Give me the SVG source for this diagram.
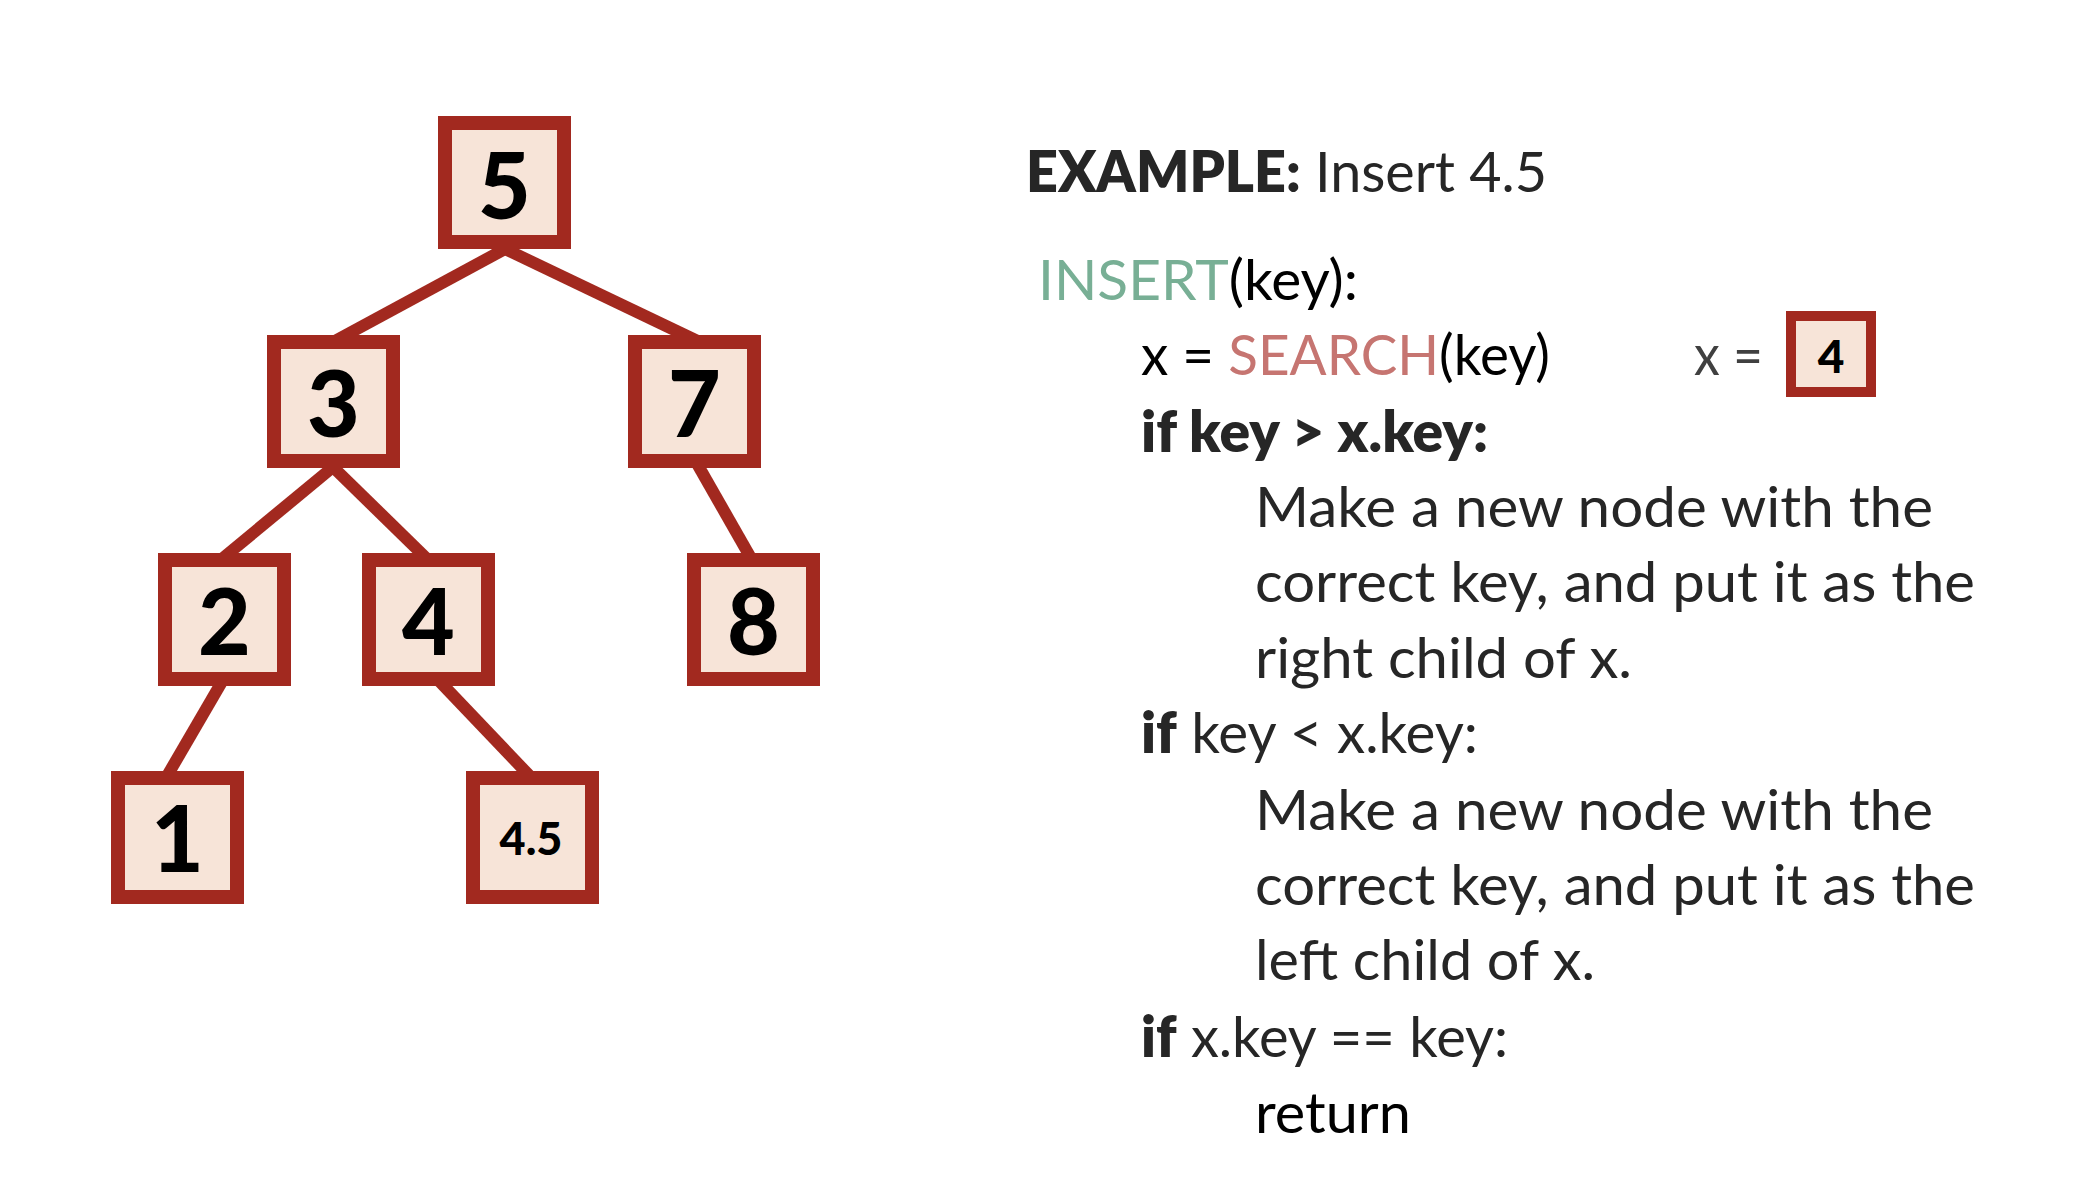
<svg xmlns="http://www.w3.org/2000/svg" width="2090" height="1182" viewBox="0 0 2090 1182">
<style>
.box{fill:#F7E4D8;stroke:#A2291F;stroke-width:14}
.sbox{fill:#F7E4D8;stroke:#A2291F;stroke-width:10}
.edge{stroke:#A2291F;stroke-width:12;fill:none}
.dig{font-family:Lato,"Liberation Sans",sans-serif;font-weight:900;font-size:91px;fill:#000;text-anchor:middle}
.t{font-family:Lato,"Liberation Sans",sans-serif;font-size:56px;fill:#262626}
.b{font-weight:800}
.k{fill:#000}
.g{fill:#78AF95}
.r{fill:#C67571}
</style>
<rect width="2090" height="1182" fill="#fff"/>
<g id="connectors">
<line class="edge" x1="519.8" y1="241" x2="331.2" y2="343"/>
<line class="edge" x1="488.3" y1="241" x2="701.7" y2="343"/>
<line class="edge" x1="342.7" y1="459" x2="219.3" y2="561"/>
<line class="edge" x1="324.8" y1="459" x2="429.2" y2="561"/>
<line class="edge" x1="694.4" y1="459" x2="752.6" y2="561"/>
<line class="edge" x1="224.7" y1="677" x2="165.3" y2="779"/>
<line class="edge" x1="435.4" y1="677" x2="532.6" y2="779"/>
</g>
<g id="node-5"><rect class="box" x="445" y="123" width="119" height="119"/><text class="dig" x="504.5" y="218.5">5</text></g>
<g id="node-3"><rect class="box" x="274" y="342" width="119" height="119"/><text class="dig" x="333.5" y="437">3</text></g>
<g id="node-7"><rect class="box" x="635" y="342" width="119" height="119"/><text class="dig" x="694.5" y="437">7</text></g>
<g id="node-2"><rect class="box" x="165" y="560" width="119" height="119"/><text class="dig" x="224.5" y="655">2</text></g>
<g id="node-4"><rect class="box" x="369" y="560" width="119" height="119"/><text class="dig" x="428.5" y="655">4</text></g>
<g id="node-8"><rect class="box" x="694" y="560" width="119" height="119"/><text class="dig" x="753.5" y="655">8</text></g>
<g id="node-1"><rect class="box" x="118" y="778" width="119" height="119"/><text class="dig" x="177.5" y="872">1</text></g>
<g id="node-4-5"><rect class="box" x="473" y="778" width="119" height="119"/><text class="dig" x="531" y="855" style="font-size:45px">4.5</text></g>
<g id="text">
<text class="t" x="1026" y="192" textLength="521" lengthAdjust="spacingAndGlyphs"><tspan class="b">EXAMPLE:</tspan> Insert 4.5</text>
<text class="t k" x="1038" y="300" textLength="320" lengthAdjust="spacingAndGlyphs"><tspan class="g">INSERT</tspan>(key):</text>
<text class="t k" x="1141" y="375" textLength="409" lengthAdjust="spacingAndGlyphs">x = <tspan class="r">SEARCH</tspan>(key)</text>
<text class="t" x="1694" y="375" textLength="69" lengthAdjust="spacingAndGlyphs" style="fill:#404040">x =</text>
<text class="t b" x="1141" y="452" textLength="347" lengthAdjust="spacingAndGlyphs">if key &gt; x.key:</text>
<text class="t" x="1255" y="527" textLength="678" lengthAdjust="spacingAndGlyphs">Make a new node with the</text>
<text class="t" x="1255" y="602" textLength="720" lengthAdjust="spacingAndGlyphs">correct key, and put it as the</text>
<text class="t" x="1255" y="678" textLength="377" lengthAdjust="spacingAndGlyphs">right child of x.</text>
<text class="t" x="1141" y="753" textLength="337" lengthAdjust="spacingAndGlyphs"><tspan class="b">if</tspan> key &lt; x.key:</text>
<text class="t" x="1255" y="830" textLength="678" lengthAdjust="spacingAndGlyphs">Make a new node with the</text>
<text class="t" x="1255" y="905" textLength="720" lengthAdjust="spacingAndGlyphs">correct key, and put it as the</text>
<text class="t" x="1255" y="980" textLength="340" lengthAdjust="spacingAndGlyphs">left child of x.</text>
<text class="t" x="1141" y="1057" textLength="367" lengthAdjust="spacingAndGlyphs"><tspan class="b">if</tspan> x.key == key:</text>
<text class="t k" x="1255" y="1133" textLength="156" lengthAdjust="spacingAndGlyphs">return</text>
</g>
<g id="node-x"><rect class="sbox" x="1791" y="316" width="80" height="76"/><text class="dig" x="1831" y="373" style="font-size:46px">4</text></g>
</svg>
